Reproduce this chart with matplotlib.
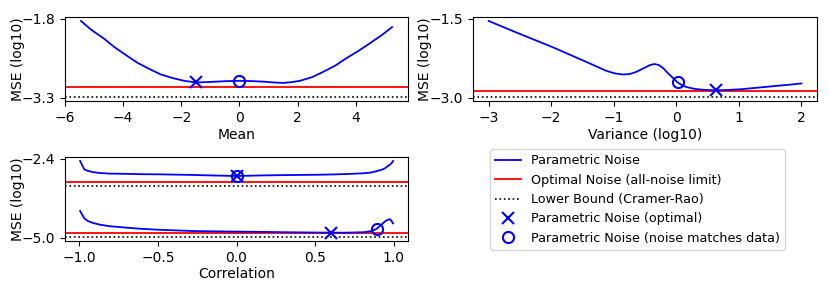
import matplotlib
matplotlib.use("Agg")
import matplotlib.pyplot as plt
from matplotlib.lines import Line2D

# --- Mean panel ---
mean_x = [-5.45, -5.1, -4.68, -4.3, -3.88, -3.5, -3.08, -2.7, -2.28, -1.9, -1.5,
          -1.15, -0.79, -0.4, 0.0, 0.4, 0.81, 1.15, 1.5, 1.8, 2.08, 2.5, 2.88,
          3.3, 3.68, 4.1, 4.48, 4.9, 5.25]
mean_y = [-1.844, -2.01, -2.17, -2.34, -2.50, -2.64, -2.76, -2.86, -2.93, -2.98, -3.01,
          -3.005, -2.995, -2.985, -2.98, -2.985, -2.995, -3.01, -3.02, -3.005, -2.98,
          -2.91, -2.81, -2.69, -2.55, -2.41, -2.27, -2.11, -1.96]
mean_opt = (-1.5, -3.01)
mean_match = (0.0, -2.98)
mean_noise = -3.10
mean_bound = -3.29
mean_ticks = [-1.8, -3.3]

# --- Variance panel ---
var_x = [-3.0, -2.52, -1.98, -1.44, -1.12, -0.98, -0.85, -0.74, -0.64, -0.52, -0.42,
         -0.35, -0.28, -0.21, -0.13, -0.05, 0.02, 0.1, 0.17, 0.28, 0.38, 0.5, 0.64,
         0.8, 1.03, 1.3, 1.56, 1.8, 2.0]
var_y = [-1.544, -1.78, -2.04, -2.32, -2.49, -2.54, -2.56, -2.55, -2.51, -2.44, -2.38,
         -2.36, -2.38, -2.44, -2.54, -2.63, -2.71, -2.77, -2.80, -2.83, -2.845, -2.855,
         -2.86, -2.855, -2.84, -2.81, -2.78, -2.755, -2.73]
var_opt = (0.64, -2.86)
var_match = (0.02, -2.71)
var_noise = -2.87
var_bound = -2.99
var_ticks = [-1.5, -3.0]

# --- Correlation panel (two data settings) ---
corr_x = [-0.994, -0.98, -0.968, -0.945, -0.915, -0.87, -0.81, -0.7, -0.6, -0.49,
          -0.28, -0.17, 0.0, 0.17, 0.3, 0.49, 0.6, 0.7, 0.81, 0.86, 0.89, 0.925,
          0.945, 0.957, 0.974, 0.985, 0.995]
corr_hi_y = [-2.476, -2.62, -2.75, -2.80, -2.84, -2.87, -2.89, -2.90, -2.91, -2.915,
             -2.935, -2.95, -2.97, -2.95, -2.94, -2.93, -2.92, -2.905, -2.88, -2.85,
             -2.81, -2.76, -2.71, -2.66, -2.60, -2.55, -2.476]
corr_lo_y = [-4.12, -4.25, -4.36, -4.45, -4.51, -4.57, -4.62, -4.67, -4.71, -4.74,
             -4.78, -4.79, -4.80, -4.81, -4.82, -4.83, -4.835, -4.835, -4.82, -4.78,
             -4.71, -4.55, -4.46, -4.42, -4.39, -4.45, -4.53]
corr_opt = [(0.0, -2.97), (0.6, -4.855)]
corr_match = [(0.0, -2.97), (0.89, -4.70)]
corr_noise = [-3.17, -4.855]
corr_bound = [-3.29, -4.99]
corr_ticks = [-2.4, -5.0]

BLUE = "#0000ff"
RED = "#ff0000"

fig = plt.figure(figsize=(8.3, 2.88), dpi=100, facecolor="white")
ax_mean = fig.add_axes([0.0783, 0.6493, 0.4133, 0.2917])
ax_var = fig.add_axes([0.5699, 0.6493, 0.4145, 0.2917])
ax_corr = fig.add_axes([0.0783, 0.1632, 0.4133, 0.2917])


def draw_panel(ax, curves, opts, matches, noises, bounds, ticks, xlabel):
    for x, y in curves:
        ax.plot(x, y, color=BLUE, lw=1.3, zorder=3)
    for n in noises:
        ax.axhline(n, color=RED, lw=1.3, zorder=2)
    for b in bounds:
        ax.axhline(b, color="black", lw=1.2, ls=":", zorder=2)
    for px, py in opts:
        ax.plot(px, py, "x", color=BLUE, ms=8, mew=1.5, zorder=4)
    for px, py in matches:
        ax.plot(px, py, "o", mfc="none", mec=BLUE, ms=8, mew=1.5, zorder=4)
    ax.set_yticks(ticks)
    ax.set_xlabel(xlabel, labelpad=2)
    ax.set_ylabel("MSE (log10)")
    ax.yaxis.set_label_coords(-0.118, 0.5)


draw_panel(ax_mean, [(mean_x, mean_y)], [mean_opt], [mean_match],
           [mean_noise], [mean_bound], mean_ticks, "Mean")
draw_panel(ax_var, [(var_x, var_y)], [var_opt], [var_match],
           [var_noise], [var_bound], var_ticks, "Variance (log10)")
draw_panel(ax_corr, [(corr_x, corr_hi_y), (corr_x, corr_lo_y)], corr_opt, corr_match,
           corr_noise, corr_bound, corr_ticks, "Correlation")

ax_mean.set_xlim(-6.0, 5.8)
ax_var.set_xlim(-3.25, 2.25)
ax_corr.set_xlim(-1.09, 1.09)
ax_mean.set_ylim(-3.363, -1.768)
ax_var.set_ylim(-3.063, -1.468)
ax_corr.set_ylim(-5.109, -2.344)

handles = [
    Line2D([0], [0], color=BLUE, lw=1.3, label="Parametric Noise"),
    Line2D([0], [0], color=RED, lw=1.3, label="Optimal Noise (all-noise limit)"),
    Line2D([0], [0], color="black", lw=1.2, ls=":", label="Lower Bound (Cramer-Rao)"),
    Line2D([0], [0], marker="x", color=BLUE, ls="none", ms=8, mew=1.5,
           label="Parametric Noise (optimal)"),
    Line2D([0], [0], marker="o", mfc="none", mec=BLUE, ls="none", ms=8, mew=1.5,
           label="Parametric Noise (noise matches data)"),
]
fig.legend(handles=handles, loc="center", bbox_to_anchor=(637.5 / 830, 1 - 199.5 / 288),
           fontsize=9.2)

fig.savefig("out.png", dpi=100, facecolor="white")
